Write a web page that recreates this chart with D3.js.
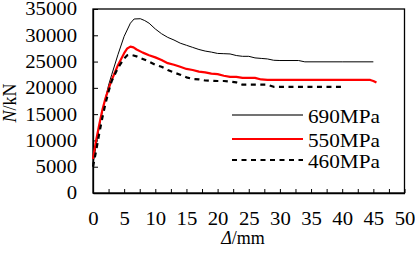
<!DOCTYPE html>
<html><head><meta charset="utf-8">
<script src="https://cdn.jsdelivr.net/npm/d3@7"></script>
<style>body{margin:0;background:#fff}svg{display:block}text{font-family:"Liberation Serif","Times New Roman",serif;fill:#000}</style>
</head><body><svg id="c" width="415" height="257"></svg>
<script>
const xTicks = [0,2.5,5,7.5,10,12.5,15,17.5,20,22.5,25,27.5,30,32.5,35,37.5,40,42.5,45,47.5,50];
const yTicks = [0,5000,10000,15000,20000,25000,30000,35000];
const seriesNames = ["690MPa","550MPa","460MPa"];
const d690 = [[0,5500],[0.5,9000],[1,12500],[1.5,15500],[2,18000],[2.5,20500],[3,22500],[4,26300],[5,29800],[6,32300],[6.6,33100],[7.6,33150],[8.3,32800],[9,32300],[10,31200],[11,30300],[12,29600],[13,29100],[14,28500],[15,28100],[16,27700],[17,27300],[18,27000],[19,26800],[20,26550],[21,26500],[22,26450],[23,26150],[24,26000],[25,26000],[26,25700],[27,25600],[28,25500],[29,25250],[30,25200],[33,25200],[34,24950],[40,24950],[45,24950]];
const d550 = [[0,6500],[0.5,10000],[1,13000],[1.5,15800],[2,18000],[2.5,19800],[3,21500],[4,24300],[5,26600],[5.5,27500],[6,27850],[6.5,27700],[7,27300],[8,26700],[9,26200],[10,25800],[11,25300],[12,24700],[13,24400],[14,24000],[15,23600],[16,23400],[17,23100],[18,22950],[19,22700],[20,22600],[21,22300],[22,22100],[23,22100],[24,21900],[26,21900],[27,21600],[28,21500],[35,21500],[44.5,21500],[45,21300],[45.5,21000]];
const d460 = [[0,5000],[0.5,8000],[1,11300],[1.5,14300],[2,17000],[2.5,19300],[3,21300],[4,23800],[5,25600],[5.5,26200],[6,26300],[7,26000],[8,25500],[9,25000],[10,24400],[11,24000],[12,23400],[13,22900],[14,22500],[15,22000],[16,21700],[17,21600],[18,21400],[20,21300],[21,21300],[22,21200],[23,21050],[24,20600],[28,20600],[29,20200],[35,20200],[40.5,20200]];
const datasets = [d690, d550, d460];
const colors = ["#000","#ff0000","#000"];
const widths = [1,2.2,2.2];
const dashes = [null,null,"5,4.5"];

const svg = d3.select("#c");
const L=93,R=404.5,T=9,B=193;
const x = d3.scaleLinear().domain([0,50]).range([L,R]);
const y = d3.scaleLinear().domain([0,35000]).range([B,T]);

function stretch(sel,f){sel.each(function(){const w=this.getComputedTextLength();d3.select(this).attr("textLength",w*f).attr("lengthAdjust","spacingAndGlyphs");});}

// frame
svg.append("rect").attr("x",L).attr("y",T).attr("width",R-L).attr("height",B-T).attr("fill","none").attr("stroke","#000").attr("stroke-width",1.3);

const xa = svg.append("g").attr("transform",`translate(0,${B})`)
  .call(d3.axisBottom(x).tickValues(xTicks).tickSizeInner(-4).tickSizeOuter(0).tickPadding(0)
    .tickFormat(d=>d%5===0?String(d):""));
xa.select(".domain").attr("stroke-width",1.3);
xa.selectAll(".tick line").attr("stroke-width",1);
xa.selectAll("text").attr("font-size",18).attr("y",32).attr("dy",null).style("font-family","Liberation Serif");
stretch(xa.selectAll("text"),1.15);

const ya = svg.append("g").attr("transform",`translate(${L},0)`)
  .call(d3.axisLeft(y).tickValues(yTicks).tickSizeInner(-5).tickSizeOuter(0).tickPadding(16).tickFormat(d=>String(d)));
ya.select(".domain").attr("stroke-width",1.3);
ya.selectAll(".tick line").attr("stroke-width",1);
ya.selectAll("text").attr("font-size",18).attr("dy","0.33em").style("font-family","Liberation Serif");
stretch(ya.selectAll("text"),1.15);

const line = d3.line().x(d=>x(d[0])).y(d=>y(d[1]));
datasets.forEach((d,i)=>{
  svg.append("path").datum(d).attr("d",line).attr("fill","none").attr("stroke",colors[i])
    .attr("stroke-width",widths[i]).attr("stroke-dasharray",dashes[i]).attr("stroke-linejoin","round");
});

// legend
const legY=[115,139,160];
seriesNames.forEach((n,i)=>{
  svg.append("line").attr("x1",232).attr("x2",303).attr("y1",legY[i]).attr("y2",legY[i])
    .attr("stroke",i===0?"#444":colors[i]).attr("stroke-width",i===0?1.5:widths[i]).attr("stroke-dasharray",dashes[i]);
  const t=svg.append("text").attr("x",308).attr("y",legY[i]+8).attr("font-size",18).text(n);
  stretch(t,1.18);
});

// axis titles
const yt = svg.append("text").attr("transform","translate(16,103) rotate(-90)").attr("text-anchor","middle").attr("font-size",18);
yt.append("tspan").attr("font-style","italic").text("N");
yt.append("tspan").text("/kN");
const xt = svg.append("text").attr("x",243).attr("y",244).attr("text-anchor","middle").attr("font-size",18);
xt.append("tspan").attr("font-style","italic").text("Δ");
xt.append("tspan").text("/mm");
</script></body></html>
